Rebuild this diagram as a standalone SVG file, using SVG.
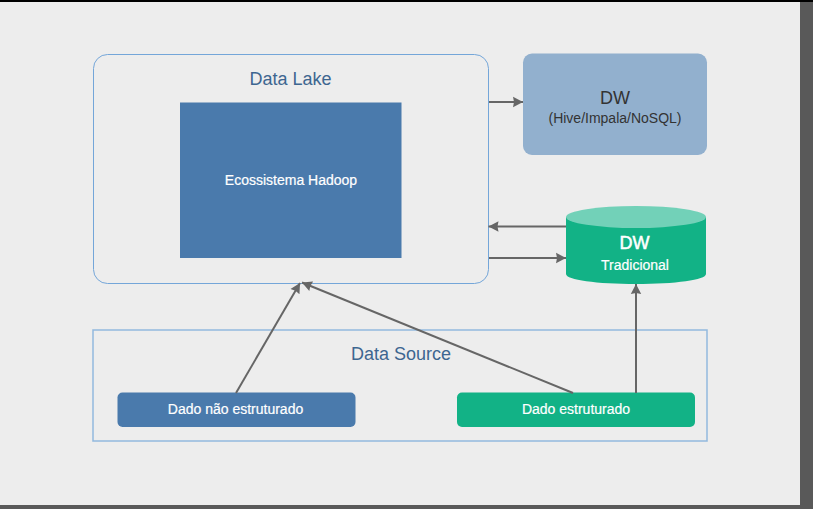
<svg xmlns="http://www.w3.org/2000/svg" width="813" height="509" viewBox="0 0 813 509">
<defs>
<marker id="ah" markerUnits="userSpaceOnUse" markerWidth="11" markerHeight="12" refX="10" refY="6" orient="auto"><path d="M0 0.800L10 6L0 11.200L1 6Z" fill="#666"/></marker>
</defs>
<style>
text{font-family:"Liberation Sans",Arial,sans-serif;text-anchor:middle}
.c{fill:none;stroke:#666;stroke-width:2;marker-end:url(#ah)}
.w{fill:#fff;stroke:#fff;stroke-width:.2}
.b{fill:#3d6690}
</style>
<rect width="813" height="509" fill="#595959"/>
<rect y="0" width="813" height="2" fill="#000"/>
<rect y="2" width="800" height="503" fill="#ededed"/>
<g id="data-lake"><rect x="93.500" y="54.500" width="395" height="229" rx="14" fill="none" stroke="#74a6d9" stroke-width="1"/><text x="290.500" y="85" font-size="18" class="b">Data Lake</text></g>
<g id="hadoop"><rect x="180" y="102.500" width="221.500" height="155.500" fill="#4a7aac"/><text x="291" y="185" font-size="14" class="w">Ecossistema Hadoop</text></g>
<g id="dw-hive"><rect x="523" y="53.500" width="184" height="101.500" rx="9" fill="#92b0ce"/><text x="615" y="104" font-size="18" fill="#333">DW</text><text x="615" y="123" font-size="14" fill="#333">(Hive/Impala/NoSQL)</text></g>
<g id="dw-tradicional"><path d="M566 217V274C566 280 597 284 636 284S706 280 706 274V217Z" fill="#12b286"/><ellipse cx="636" cy="217" rx="70" ry="11" fill="#72d1b8"/><text x="634.500" y="249" font-size="18" class="w" style="stroke-width:.5">DW</text><text x="635" y="270" font-size="14" class="w">Tradicional</text></g>
<g id="data-source"><rect x="93" y="330" width="614" height="111" fill="none" stroke="#92b9de" stroke-width="1.500"/><text x="401" y="360" font-size="18" class="b">Data Source</text></g>
<g id="nao-estruturado"><rect x="117.500" y="392.500" width="238" height="34.500" rx="5" fill="#4a7aac"/><text x="235.500" y="414" font-size="14" class="w">Dado não estruturado</text></g>
<g id="estruturado"><rect x="457" y="392.500" width="238" height="34.500" rx="5" fill="#12b286"/><text x="576" y="414" font-size="14" class="w">Dado estruturado</text></g>
<g id="connectors">
<path class="c" d="M489 102H523"/>
<path class="c" d="M566 226.500H488.500"/>
<path class="c" d="M489 258H566"/>
<path class="c" d="M636 393V284"/>
<path class="c" d="M236 393L300 283"/>
<path class="c" d="M573 393L302 282.500"/>
</g>
</svg>
